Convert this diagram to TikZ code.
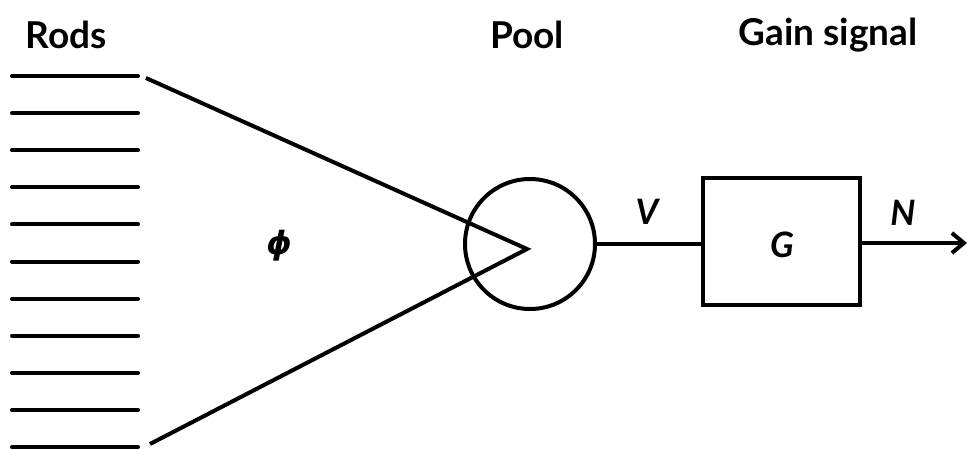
\documentclass[tikz,border=0pt]{standalone}
\usepackage{fontspec}
\setmainfont{Lato}
\newfontfamily\dvsans{DejaVu Sans}
\usetikzlibrary{arrows.meta}
\begin{document}
\begin{tikzpicture}[x=1pt,y=-1pt,
  lbl/.style={font=\fontsize{37}{42}\selectfont\bfseries, inner sep=0pt},
  sym/.style={font=\fontsize{35}{40}\selectfont\bfseries\itshape, inner sep=0pt},
  rod/.style={line width=4pt, line cap=round},
  wire/.style={line width=4pt},
  every node/.style={inner sep=0pt}]
\useasboundingbox (0,0) rectangle (967,450);
% titles
\node[lbl] (trods) at (66,35) {Rods};
\node[lbl] (tpool) at (527,35) {Pool};
\node[lbl] (tgain) at (828,35) {Gain signal};
% rods
\foreach \i in {0,...,10} {
  \coordinate (rl\i) at (12,{76+37.1*\i});
  \coordinate (rr\i) at (138,{76+37.1*\i});
  \draw[rod] (rl\i) -- (rr\i);
}
% pool
\node[draw, circle, line width=4pt, minimum size=130pt] (pool) at (530,244) {};
\coordinate (apex) at (527,249);
\coordinate (ftop) at (146,78);
\coordinate (fbot) at (150,444);
\draw[wire, line join=miter] (ftop) -- (apex) -- (fbot);
\node[font=\fontsize{32}{36}\selectfont\dvsans\bfseries\itshape] (phi) at (279,246) {ϕ};
% gain box
\node[draw, line width=4pt, minimum width=157pt, minimum height=127pt] (gbox) at (781.5,241.5) {};
\node[sym] (G) at (782,245) {G};
\draw[wire] (pool.east) -- (gbox.west |- pool.east);
\node[sym] (V) at (647,212) {V};
\coordinate (out) at (967,243);
\draw[wire, -{Straight Barb[length=12pt,width=20pt,line width=4pt]}] (gbox.east |- out) -- (out);
\node[sym] (N) at (903,213) {N};
\end{tikzpicture}
\end{document}
